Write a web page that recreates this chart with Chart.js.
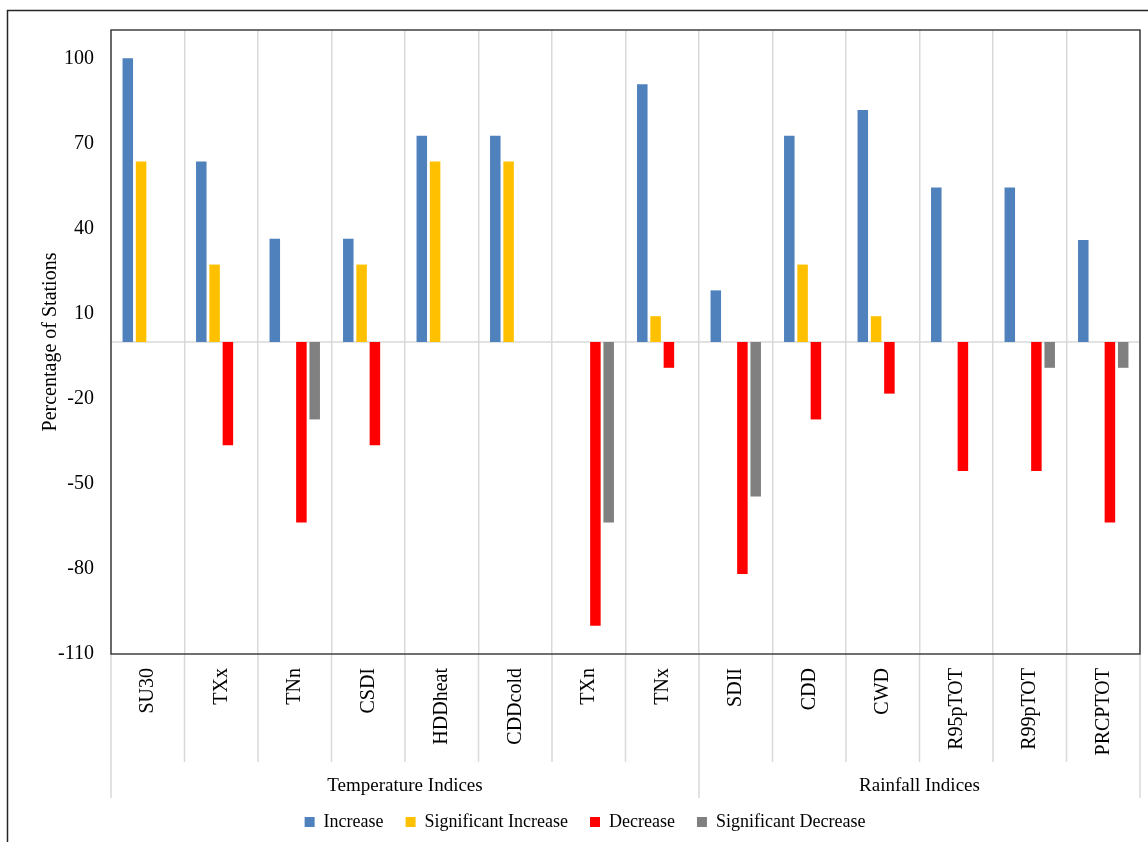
<!DOCTYPE html>
<html>
<head>
<meta charset="utf-8">
<title>Trend of climate indices</title>
<script src="https://cdn.jsdelivr.net/npm/chart.js@4.4.1/dist/chart.umd.min.js"></script>
<style>
  html, body { margin: 0; padding: 0; background: #fff; }
  #wrap { width: 1148px; height: 842px; }
</style>
</head>
<body>
<div id="wrap"><canvas id="trendChart" width="1148" height="842"></canvas></div>
<script>
// ---- data (percentage of 11 stations) ----
const indices = ['SU30', 'TXx', 'TNn', 'CSDI', 'HDDheat', 'CDDcold', 'TXn', 'TNx',
                 'SDII', 'CDD', 'CWD', 'R95pTOT', 'R99pTOT', 'PRCPTOT'];

const increase        = [100, 63.6, 36.4, 36.4, 72.7, 72.7, null, 90.9, 18.2, 72.7, 81.8, 54.5, 54.5, 36];
const sigIncrease     = [63.6, 27.3, null, 27.3, 63.6, 63.6, null, 9.1, null, 27.3, 9.1, null, null, null];
const decrease        = [null, -36.4, -63.6, -36.4, null, null, -100, -9.1, -81.8, -27.3, -18.2, -45.5, -45.5, -63.6];
const sigDecrease     = [null, null, -27.3, null, null, null, -63.6, null, -54.5, null, null, null, -9.1, -9.1];

const groupLabels = ['Temperature Indices', 'Rainfall Indices'];
const groupSizes = [8, 6];

const yTicks = [-110, -80, -50, -20, 10, 40, 70, 100];

const serif = '"Liberation Serif", "Times New Roman", serif';
const gridGrey = '#d9d9d9';

// ---- extra drawing: frames, zero line, dividers under the axis, group names ----
const framePlugin = {
    id: 'framePlugin',
    beforeDraw(chart) {
        const ctx = chart.ctx;
        ctx.save();
        ctx.strokeStyle = '#262626';
        ctx.lineWidth = 1.5;
        ctx.beginPath();
        ctx.moveTo(7.5, chart.height);
        ctx.lineTo(7.5, 10.5);
        ctx.lineTo(chart.width, 10.5);
        ctx.stroke();
        ctx.restore();
    },
    beforeDatasetsDraw(chart) {
        const {ctx, chartArea, scales} = chart;
        const x = scales.x, y = scales.y;
        const half = (x.getPixelForValue(1) - x.getPixelForValue(0)) / 2;
        ctx.save();
        ctx.strokeStyle = gridGrey;
        ctx.lineWidth = 1.5;

        // zero line
        const y0 = y.getPixelForValue(0);
        ctx.beginPath();
        ctx.moveTo(chartArea.left, y0);
        ctx.lineTo(chartArea.right, y0);
        ctx.stroke();

        // group boundaries
        const groupEdges = [0];
        groupSizes.forEach(n => groupEdges.push(groupEdges[groupEdges.length - 1] + n));

        for (let k = 0; k <= indices.length; k++) {
            const px = x.getPixelForValue(k) - half;
            const depth = groupEdges.includes(k) ? 144 : 108;
            ctx.beginPath();
            ctx.moveTo(px, chartArea.bottom);
            ctx.lineTo(px, chartArea.bottom + depth);
            ctx.stroke();
        }

        // group names
        ctx.fillStyle = '#000';
        ctx.font = '19px ' + serif;
        ctx.textAlign = 'center';
        ctx.textBaseline = 'middle';
        for (let g = 0; g < groupLabels.length; g++) {
            const a = x.getPixelForValue(groupEdges[g]) - half;
            const b = x.getPixelForValue(groupEdges[g + 1]) - half;
            ctx.fillText(groupLabels[g], (a + b) / 2, chartArea.bottom + 132);
        }
        ctx.restore();
    },
    afterDatasetsDraw(chart) {
        const {ctx, chartArea} = chart;
        ctx.save();
        ctx.strokeStyle = '#404040';
        ctx.lineWidth = 1.5;
        ctx.strokeRect(chartArea.left, chartArea.top, chartArea.right - chartArea.left, chartArea.bottom - chartArea.top);
        ctx.restore();
    }
};

const ctx = document.getElementById('trendChart').getContext('2d');

new Chart(ctx, {
    type: 'bar',
    data: {
        labels: indices,
        datasets: [
            { label: 'Increase', data: increase, backgroundColor: '#4f81bd' },
            { label: 'Significant Increase', data: sigIncrease, backgroundColor: '#ffc000' },
            { label: 'Decrease', data: decrease, backgroundColor: '#ff0000' },
            { label: 'Significant Decrease', data: sigDecrease, backgroundColor: '#808080' }
        ]
    },
    options: {
        responsive: false,
        animation: false,
        layout: { padding: { top: 30, right: 8, bottom: 1, left: 30 } },
        datasets: {
            bar: { categoryPercentage: 0.724, barPercentage: 0.79, borderWidth: 0 }
        },
        plugins: {
            legend: {
                position: 'bottom',
                labels: {
                    color: '#000',
                    font: { family: serif, size: 18 },
                    boxWidth: 10,
                    boxHeight: 10,
                    padding: 22
                }
            },
            tooltip: { enabled: false }
        },
        scales: {
            x: {
                grid: { display: true, offset: true, color: gridGrey, lineWidth: 1.5, drawTicks: false },
                border: { display: false },
                ticks: {
                    color: '#000',
                    font: { family: serif, size: 20 },
                    minRotation: 90,
                    maxRotation: 90,
                    autoSkip: false,
                    padding: 14
                },
                afterFit(scale) { scale.height = 137; }
            },
            y: {
                min: -110,
                max: 110,
                grid: { display: false, drawTicks: false },
                border: { display: false },
                ticks: {
                    color: '#000',
                    font: { family: serif, size: 20 },
                    padding: 17
                },
                afterBuildTicks(scale) {
                    scale.ticks = yTicks.map(v => ({ value: v }));
                },
                title: {
                    display: true,
                    text: 'Percentage of Stations',
                    color: '#000',
                    font: { family: serif, size: 20 },
                    padding: { top: 9, bottom: 0 }
                },
                afterFit(scale) { scale.width = 81; }
            }
        }
    },
    plugins: [framePlugin]
});
</script>
</body>
</html>
